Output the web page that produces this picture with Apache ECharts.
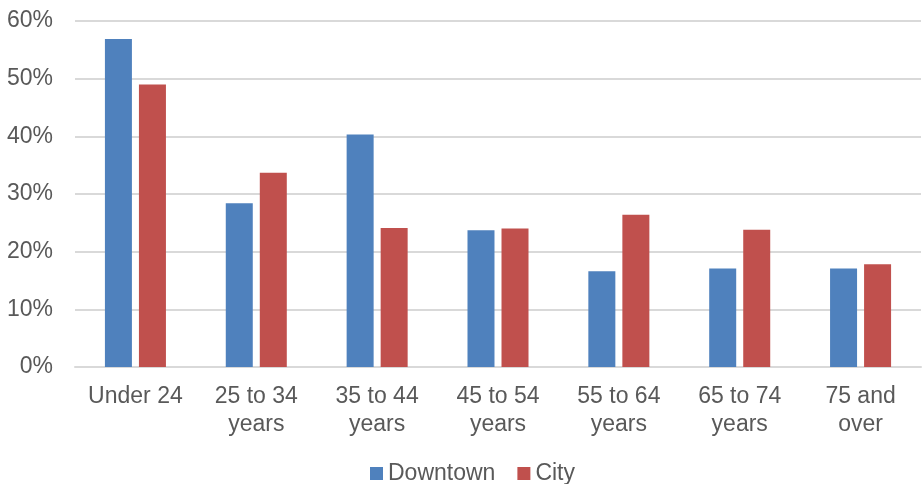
<!DOCTYPE html>
<html><head><meta charset="utf-8">
<script src="https://cdn.jsdelivr.net/npm/echarts@6/dist/echarts.min.js"></script>
<style>html,body{margin:0;padding:0;background:#fff}#c{width:922px;height:484px}</style>
</head><body><div id="c"></div>
<script>
const categories = ['Under 24', '25 to 34\nyears', '35 to 44\nyears', '45 to 54\nyears', '55 to 64\nyears', '65 to 74\nyears', '75 and\nover'];
const downtown = [56.9, 28.4, 40.3, 23.7, 16.6, 17.1, 17.1];
const city = [49.0, 33.7, 24.1, 24.0, 26.4, 23.8, 17.8];
const yTicks = [0, 10, 20, 30, 40, 50, 60];

const chart = echarts.init(document.getElementById('c'));
const font = 'Liberation Sans, Arial, sans-serif';
chart.setOption({
  animation: false,
  textStyle: { fontFamily: font },
  grid: { left: 75, right: 1, top: 21, bottom: 117, containLabel: false },
  legend: {
    top: 460, left: 368, padding: [2, 2, 2, 2],
    itemWidth: 13, itemHeight: 13, itemGap: 22,
    icon: 'rect',
    textStyle: { fontSize: 23, color: '#595959', fontFamily: font },
    data: ['Downtown', 'City']
  },
  xAxis: {
    type: 'category', data: categories,
    axisLine: { lineStyle: { color: '#d9d9d9', width: 2 } },
    axisTick: { show: false },
    axisLabel: { fontSize: 23, color: '#595959', lineHeight: 28, margin: 16, interval: 0 }
  },
  yAxis: {
    type: 'value', min: yTicks[0], max: yTicks[yTicks.length - 1], interval: 10,
    axisLine: { show: false }, axisTick: { show: false },
    splitLine: { lineStyle: { color: '#d9d9d9', width: 2 } },
    axisLabel: { fontSize: 23, color: '#595959', margin: 22, formatter: v => v + '%' }
  },
  series: [
    { name: 'Downtown', type: 'bar', data: downtown, barWidth: 27, barGap: '26%',
      itemStyle: { color: '#4F81BD' } },
    { name: 'City', type: 'bar', data: city, barWidth: 27,
      itemStyle: { color: '#C0504D' } }
  ]
});
</script></body></html>
